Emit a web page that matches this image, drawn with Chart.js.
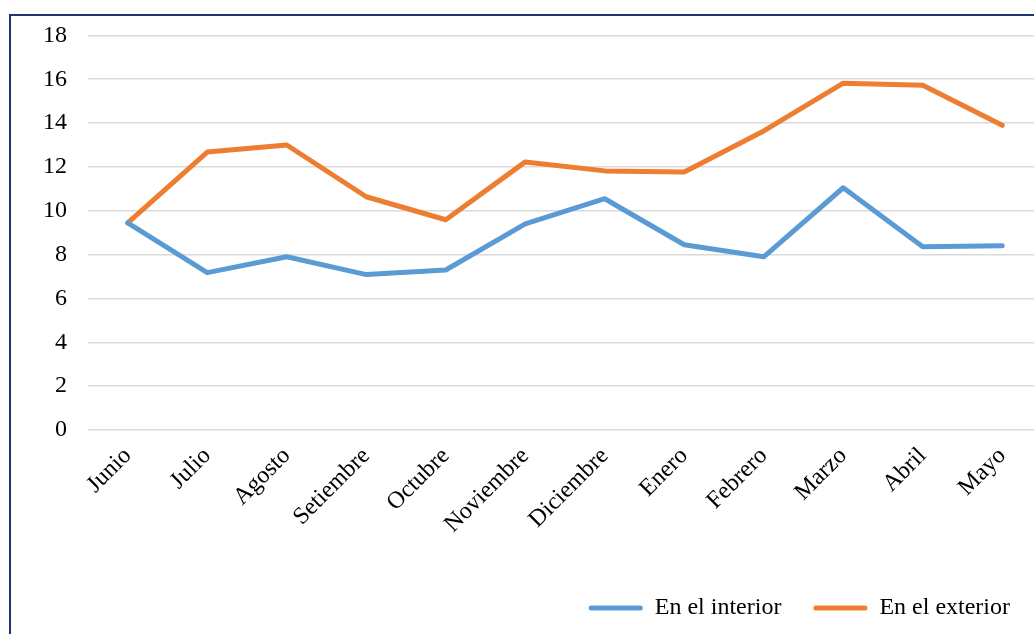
<!DOCTYPE html>
<html>
<head>
<meta charset="utf-8">
<script src="https://cdn.jsdelivr.net/npm/chart.js@4/dist/chart.umd.min.js"></script>
<style>
  html, body { margin: 0; padding: 0; background: #fff; overflow: hidden; }
  #frame {
    position: absolute; left: 9px; top: 14px; width: 1100px; height: 700px;
    border: 2px solid #1a3474; box-sizing: border-box;
  }
  #wrap { position: absolute; left: 0; top: 0; width: 1042px; height: 630px; }
</style>
</head>
<body>
<div id="frame"></div>
<div id="wrap"><canvas id="chart" width="1042" height="630"></canvas></div>
<script>
// meses del periodo
const meses = ['Junio', 'Julio', 'Agosto', 'Setiembre', 'Octubre', 'Noviembre',
  'Diciembre', 'Enero', 'Febrero', 'Marzo', 'Abril', 'Mayo'];

const interior = [9.45, 7.18, 7.9, 7.09, 7.3, 9.4, 10.55, 8.45, 7.9, 11.05, 8.36, 8.4];
const exterior = [9.45, 12.68, 13.0, 10.64, 9.59, 12.23, 11.82, 11.77, 13.64, 15.82, 15.73, 13.9];

const fuente = "'Liberation Serif', 'Times New Roman', serif";

const ctx = document.getElementById('chart');
new Chart(ctx, {
  type: 'line',
  data: {
    labels: meses,
    datasets: [
      {
        label: 'En el interior',
        data: interior,
        borderColor: '#5b9bd5',
        backgroundColor: '#5b9bd5',
        borderWidth: 5,
        pointRadius: 0,
        borderJoinStyle: 'round',
        borderCapStyle: 'round',
        tension: 0
      },
      {
        label: 'En el exterior',
        data: exterior,
        borderColor: '#ed7d31',
        backgroundColor: '#ed7d31',
        borderWidth: 5,
        pointRadius: 0,
        borderJoinStyle: 'round',
        borderCapStyle: 'round',
        tension: 0
      }
    ]
  },
  options: {
    responsive: false,
    animation: false,
    layout: { padding: { top: 31, left: 0, right: 0, bottom: 0 } },
    scales: {
      x: {
        offset: true,
        grid: { display: false },
        border: { display: false },
        ticks: {
          color: '#000',
          font: { family: fuente, size: 24 },
          minRotation: 45,
          maxRotation: 45,
          padding: 4,
          autoSkip: false
        },
        afterFit(scale) { scale.height = 134; }
      },
      y: {
        min: 0,
        max: 18,
        grid: { color: '#d9d9d9', lineWidth: 1.5, drawTicks: false },
        border: { display: false },
        ticks: {
          stepSize: 2,
          color: '#000',
          font: { family: fuente, size: 24 },
          padding: 21
        },
        afterFit(scale) { scale.width = 88; }
      }
    },
    plugins: {
      tooltip: { enabled: false },
      legend: {
        position: 'bottom',
        align: 'end',
        labels: {
          color: '#000',
          font: { family: fuente, size: 24 },
          boxWidth: 54,
          boxHeight: 5,
          padding: 32,
          generateLabels(chart) {
            const items = Chart.defaults.plugins.legend.labels.generateLabels(chart);
            items.forEach(it => { it.lineWidth = 0; it.borderRadius = 2.5; });
            return items;
          }
        }
      }
    }
  }
});
</script>
</body>
</html>
